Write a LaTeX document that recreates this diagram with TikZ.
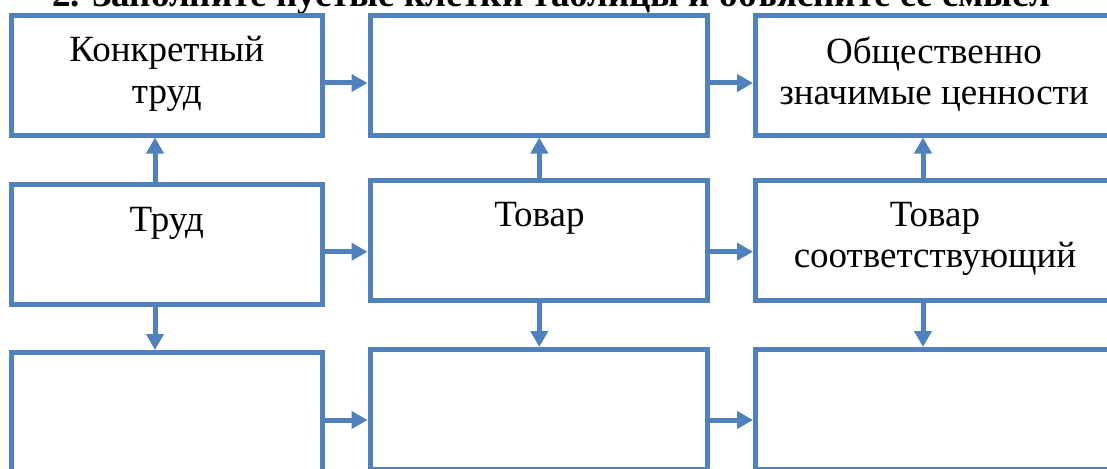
\documentclass[tikz,border=0pt]{standalone}
\usepackage{fontspec}
\setmainfont{Liberation Serif}
\usetikzlibrary{arrows.meta}
\definecolor{boxblue}{RGB}{79,129,189}
\tikzset{
  box/.style={draw=boxblue,line width=5pt,inner sep=0pt,fill=white},
  conn/.style={draw=boxblue,line width=5pt,-{Triangle[width=17pt,length=16pt]}},
  lbl/.style={font=\fontsize{37}{41.5}\selectfont,align=center,anchor=base,inner sep=0pt},
  ttl/.style={font=\fontsize{37}{40}\selectfont\bfseries,anchor=base west,inner sep=0pt}
}
\begin{document}
\begin{tikzpicture}[x=1pt,y=-1pt]
\useasboundingbox (0,0) rectangle (1107,468);
\clip (0,0) rectangle (1107,468);
\fill[white] (0,0) rectangle (1107,468);
% title
\node[ttl] (title) at (52,7) {2. Заполните пустые клетки таблицы и объясните ее смысл};
% boxes
\node[box,minimum width=311.5pt,minimum height=119pt] (L1) at (166.75,75.5) {};
\node[box,minimum width=337pt,minimum height=119pt] (M1) at (538.5,75.5) {};
\node[box,minimum width=357pt,minimum height=119pt] (R1) at (934,75.5) {};
\node[box,minimum width=311.5pt,minimum height=119.5pt] (L2) at (166.75,244.25) {};
\node[box,minimum width=337pt,minimum height=120pt] (M2) at (538.5,240) {};
\node[box,minimum width=357pt,minimum height=120pt] (R2) at (934,240) {};
\node[box,minimum width=311.5pt,minimum height=130pt] (L3) at (166.75,417.5) {};
\node[box,minimum width=337pt,minimum height=119.5pt] (M3) at (538.5,409.25) {};
\node[box,minimum width=357pt,minimum height=119.5pt] (R3) at (934,409.25) {};
% texts (anchor = baseline of the last line)
\node[lbl] (tL1) at (166.75,103.5) {Конкретный\\труд};
\node[lbl] (tR1) at (934,105) {Общественно\\значимые ценности};
\node[lbl] (tL2) at (166.75,231.7) {Труд};
\node[lbl] (tM2) at (539.5,226.7) {Товар};
\node[lbl] (tR2) at (935,267.5) {Товар\\соответствующий};
% row / column guides
\coordinate (r1) at (0,83);
\coordinate (r2) at (0,251.7);
\coordinate (r3) at (0,420);
\coordinate (cL) at (155,0);
\coordinate (cM) at (539.3,0);
\coordinate (cR) at (923,0);
% horizontal arrows
\draw[conn] (L1.east |- r1) -- (M1.west |- r1);
\draw[conn] (M1.east |- r1) -- (R1.west |- r1);
\draw[conn] (L2.east |- r2) -- (M2.west |- r2);
\draw[conn] (M2.east |- r2) -- (R2.west |- r2);
\draw[conn] (L3.east |- r3) -- (M3.west |- r3);
\draw[conn] (M3.east |- r3) -- (R3.west |- r3);
% vertical arrows
\draw[conn] (L2.north -| cL) -- (L1.south -| cL);
\draw[conn] (L2.south -| cL) -- (L3.north -| cL);
\draw[conn] (M2.north -| cM) -- (M1.south -| cM);
\draw[conn] (M2.south -| cM) -- (M3.north -| cM);
\draw[conn] (R2.north -| cR) -- (R1.south -| cR);
\draw[conn] (R2.south -| cR) -- (R3.north -| cR);
\end{tikzpicture}
\end{document}
